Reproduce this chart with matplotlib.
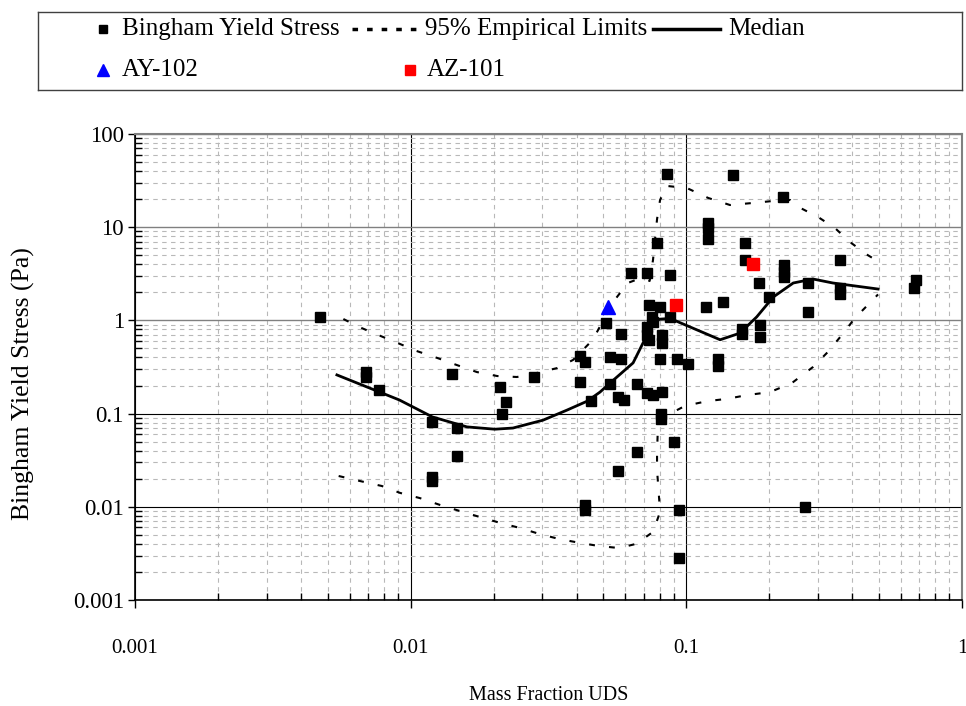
import matplotlib
matplotlib.use("Agg")
import matplotlib.pyplot as plt

plt.rcParams['font.family'] = ['Liberation Serif', 'DejaVu Serif']

# measured Bingham yield stress vs. undissolved solids
uds_frac = [0.0047, 0.0069, 0.0069, 0.0077, 0.0120, 0.0120, 0.0120, 0.0141, 0.0147, 0.0147,
            0.0211, 0.0222, 0.0215, 0.0280, 0.041, 0.043, 0.041, 0.045, 0.043, 0.043,
            0.053, 0.058, 0.053, 0.066, 0.0565, 0.0595, 0.072, 0.0757, 0.0817, 0.080,
            0.0925, 0.081, 0.081, 0.090, 0.066, 0.0565, 0.094, 0.094, 0.051, 0.058,
            0.101, 0.130, 0.130, 0.085, 0.120, 0.120, 0.120, 0.078, 0.063, 0.072,
            0.087, 0.073, 0.080, 0.118, 0.075, 0.076, 0.087, 0.072, 0.072, 0.073,
            0.0817, 0.0817, 0.148, 0.225, 0.163, 0.163, 0.226, 0.226, 0.226, 0.36,
            0.183, 0.200, 0.277, 0.36, 0.36, 0.68, 0.67, 0.136, 0.277, 0.159,
            0.159, 0.185, 0.185, 0.27]
yield_stress = [1.08, 0.28, 0.245, 0.18, 0.081, 0.021, 0.019, 0.265, 0.070, 0.035,
                0.193, 0.133, 0.100, 0.25, 0.415, 0.36, 0.22, 0.136, 0.0105, 0.0092,
                0.40, 0.385, 0.21, 0.21, 0.15, 0.14, 0.166, 0.158, 0.17, 0.385,
                0.385, 0.10, 0.088, 0.050, 0.039, 0.024, 0.0093, 0.0028, 0.94, 0.71,
                0.34, 0.385, 0.325, 37, 11, 9.8, 7.5, 6.8, 3.2, 3.2,
                3.1, 1.45, 1.4, 1.4, 1.1, 0.95, 1.1, 0.85, 0.70, 0.62,
                0.70, 0.57, 36, 21, 6.8, 4.5, 3.9, 3.3, 2.9, 4.4,
                2.5, 1.78, 2.5, 2.2, 1.92, 2.7, 2.2, 1.57, 1.23, 0.80,
                0.72, 0.89, 0.66, 0.010]

ay102_x = [0.052]
ay102_y = [1.4]
az101_x = [0.092, 0.175]
az101_y = [1.45, 4.0]

median_x = [0.0054, 0.0091, 0.0120, 0.0160, 0.0202, 0.0235, 0.0302, 0.0369, 0.0437, 0.0486,
            0.0529, 0.0641, 0.0696, 0.075, 0.0797, 0.0873, 0.0995, 0.1326, 0.1565, 0.18,
            0.2066, 0.2443, 0.288, 0.34, 0.496]
median_y = [0.26, 0.14, 0.092, 0.072, 0.068, 0.07, 0.085, 0.109, 0.136, 0.17,
            0.213, 0.35, 0.57, 0.85, 1.03, 1.05, 0.89, 0.62, 0.73, 1.09,
            1.78, 2.52, 2.78, 2.52, 2.17]

upper_x = [0.0057, 0.0065, 0.0076, 0.0090, 0.0105, 0.0125, 0.0147, 0.0174, 0.0206, 0.0243,
           0.0287, 0.034, 0.0388, 0.0458, 0.0542, 0.0613, 0.0669, 0.0736, 0.0757, 0.0783,
           0.0803, 0.0851, 0.1005, 0.12, 0.144, 0.1745, 0.206, 0.238, 0.251, 0.300,
           0.346, 0.393, 0.456, 0.496]
upper_y = [1.035, 0.85, 0.70, 0.57, 0.47, 0.395, 0.332, 0.279, 0.253, 0.247,
           0.273, 0.308, 0.376, 0.62, 1.57, 2.52, 2.78, 2.65, 4.45, 12.2,
           19.6, 27.7, 26.3, 20.6, 17.3, 18.2, 19.1, 19.6, 16.9, 12.9,
           9.8, 6.9, 5.0, 4.3]

lower_x = [0.00548, 0.00655, 0.00787, 0.00915, 0.0108, 0.0128, 0.0151, 0.0178, 0.0212, 0.0249,
           0.0294, 0.0345, 0.0411, 0.0481, 0.057, 0.0657, 0.0757, 0.0803, 0.0794, 0.0783,
           0.0783, 0.0788, 0.0856, 0.0989, 0.119, 0.1406, 0.166, 0.201, 0.2416, 0.288,
           0.326, 0.367, 0.409, 0.463, 0.496]
lower_y = [0.0214, 0.0189, 0.0167, 0.0141, 0.0124, 0.01045, 0.009, 0.00778, 0.0067, 0.00593,
           0.0051, 0.00452, 0.0041, 0.0038, 0.00361, 0.004, 0.00537, 0.0088, 0.0141, 0.0248,
           0.0387, 0.0667, 0.0966, 0.121, 0.136, 0.144, 0.158, 0.17, 0.213, 0.316,
           0.458, 0.70, 1.06, 1.54, 1.9]

x_ticks = [0.001, 0.01, 0.1, 1]
x_ticklabels = ['0.001', '0.01', '0.1', '1']
y_ticks = [0.001, 0.01, 0.1, 1, 10, 100]
y_ticklabels = ['0.001', '0.01', '0.1', '1', '10', '100']

dash_style = (0, (2.8, 6.8))

fig = plt.figure(figsize=(9.66, 7.06), dpi=100)
ax = fig.add_axes([135 / 966, 1 - 600 / 706, 827 / 966, 466 / 706])
ax.set_xscale('log')
ax.set_yscale('log')
ax.set_xlim(0.001, 1)
ax.set_ylim(0.001, 100)

# grid: dashed light minor lines, solid major lines
ax.grid(which='minor', color='#b8b8b8', linestyle=(0, (4, 4)), linewidth=0.8)
ax.grid(which='major', color='#808080', linestyle='-', linewidth=1.0)
ax.set_axisbelow(True)

ax.plot(lower_x, lower_y, color='black', lw=1.5, linestyle=dash_style, zorder=3)
ax.plot(upper_x, upper_y, color='black', lw=1.5, linestyle=dash_style, zorder=3)
ax.plot(median_x, median_y, color='black', lw=2.0, zorder=3)
ax.plot(uds_frac, yield_stress, 's', color='black', markersize=7.5, zorder=4)
ax.plot(ay102_x, ay102_y, '^', color='#0000ff', markersize=10.5, zorder=5)
ax.plot(az101_x, az101_y, 's', color='#ff0000', markersize=8.5, zorder=5)

ax.set_xticks(x_ticks)
ax.set_xticklabels(x_ticklabels)
ax.set_yticks(y_ticks)
ax.set_yticklabels(y_ticklabels)
for loc, gl in zip(ax.get_xticks(), ax.get_xgridlines()):
    gl.set_color('black')
    gl.set_linewidth(0.8)
for loc, gl in zip(ax.get_yticks(), ax.get_ygridlines()):
    if loc < 0.5:
        gl.set_color('black')
        gl.set_linewidth(0.8)

ax.tick_params(axis='x', which='major', direction='out', length=6, width=1, pad=22, labelsize=15)
ax.tick_params(axis='x', which='minor', direction='in', length=5, width=1)
ax.tick_params(axis='y', which='major', direction='out', length=5, width=1, pad=3, labelsize=16.5)
ax.tick_params(axis='y', which='minor', direction='in', length=5, width=1)
ax.tick_params(which='both', top=False, right=False)

for side in ['top', 'right']:
    ax.spines[side].set_color('#808080')
    ax.spines[side].set_linewidth(1.5)
for side in ['left', 'bottom']:
    ax.spines[side].set_color('black')
    ax.spines[side].set_linewidth(1.2)

ax.set_xlabel('Mass Fraction UDS', fontsize=14.5, labelpad=20)
ax.set_ylabel('Bingham Yield Stress (Pa)', fontsize=18.5)
ax.yaxis.set_label_coords(-100 / 827, 0.465)

# legend box drawn in its own axes (pixel units inside the box)
lg = fig.add_axes([38 / 966, 1 - 90 / 706, 924 / 966, 78 / 706])
lg.set_xlim(0, 924)
lg.set_ylim(78, 0)
lg.set_xticks([])
lg.set_yticks([])
for s in lg.spines.values():
    s.set_color('#404040')
    s.set_linewidth(1.0)

leg_fs = 18
row1, row2 = 17, 58
lg.plot([65], [row1], 's', color='black', markersize=6)
lg.text(84, row1, 'Bingham Yield Stress', fontsize=leg_fs, va='center', ha='left')
lg.plot([314, 382], [row1, row1], color='black', lw=2.5, linestyle=(0, (1.6, 2.6)))
lg.text(387, row1, '95% Empirical Limits', fontsize=leg_fs, va='center', ha='left')
lg.plot([615, 682], [row1, row1], color='black', lw=2.5)
lg.text(690, row1, 'Median', fontsize=leg_fs, va='center', ha='left')
lg.plot([65], [row2], '^', color='#0000ff', markersize=8)
lg.text(84, row2, 'AY-102', fontsize=leg_fs, va='center', ha='left')
lg.plot([372], [row2], 's', color='#ff0000', markersize=7)
lg.text(389, row2, 'AZ-101', fontsize=leg_fs, va='center', ha='left')

fig.savefig('out.png', dpi=100)
